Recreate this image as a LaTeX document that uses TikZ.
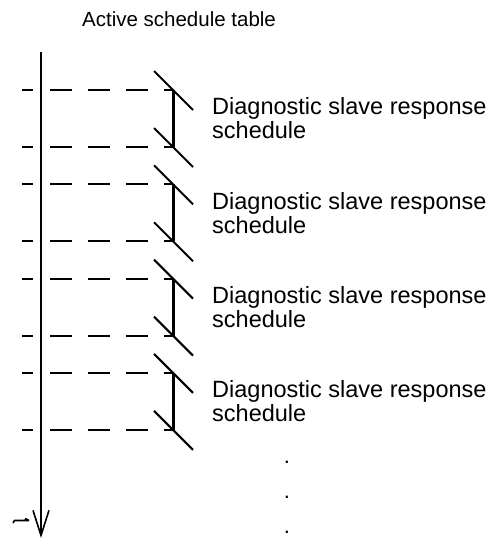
\documentclass[tikz,border=0pt]{standalone}
\usepackage{fontspec}
\setmainfont{Liberation Sans}
\usetikzlibrary{arrows.meta}

\begin{document}
\begin{tikzpicture}[x=1pt, y=-1pt,
  axisline/.style={line width=2pt, -{Straight Barb[length=25pt, width=16pt, line width=1.6pt]}},
  tickline/.style={line width=2pt},
  slotline/.style={line width=2pt, dash pattern=on 22pt off 16pt},
  slotbar/.style={line width=3pt},
  slash/.style={line width=2pt},
  slotlabel/.style={anchor=north west, inner sep=0pt, align=left, font=\fontsize{23.5}{24}\selectfont},
  dotmark/.style={inner sep=0pt, font=\fontsize{22}{24}\selectfont}
]
  \useasboundingbox (0,0) rectangle (494,540);

  \node[anchor=base west, inner sep=0pt, font=\fontsize{20.5}{24}\selectfont] (title) at (82,27) {Active schedule table};

  % time axis
  \coordinate (axtop) at (41,52);
  \coordinate (axend) at (41,538);
  \draw[axisline] (axtop) -- (axend);
  \draw[line width=1.6pt] (13,523) -- (14.5,520.5) -- (29,520.5) (25,518.5) -- (29,520.5);

  % diagnostic slots
  \foreach \g [evaluate=\g as \ya using 90+94.3*\g,
               evaluate=\g as \yb using 147+94.3*\g] in {0,...,3} {
    \coordinate (s\g) at (173,\ya);
    \coordinate (e\g) at (173,\yb);
    \draw[tickline] (22,\ya) -- (33,\ya);
    \draw[tickline] (22,\yb) -- (33,\yb);
    \draw[slotline] (50,\ya) -- (s\g);
    \draw[slotline] (50,\yb) -- (e\g);
    \draw[slotbar] (s\g) -- (e\g);
    \draw[slash] ([shift={(-19,-19)}]s\g) -- ([shift={(20,20)}]s\g);
    \draw[slash] ([shift={(-19,-19)}]e\g) -- ([shift={(20,20)}]e\g);
    \node[slotlabel] (d\g) at (212,\ya+7.5) {Diagnostic slave response\\schedule};
  }

  % continuation dots
  \foreach \k/\y in {1/462, 2/497, 3/532} {
    \node[dotmark] (dot\k) at (287,\y) {.};
  }
\end{tikzpicture}
\end{document}
